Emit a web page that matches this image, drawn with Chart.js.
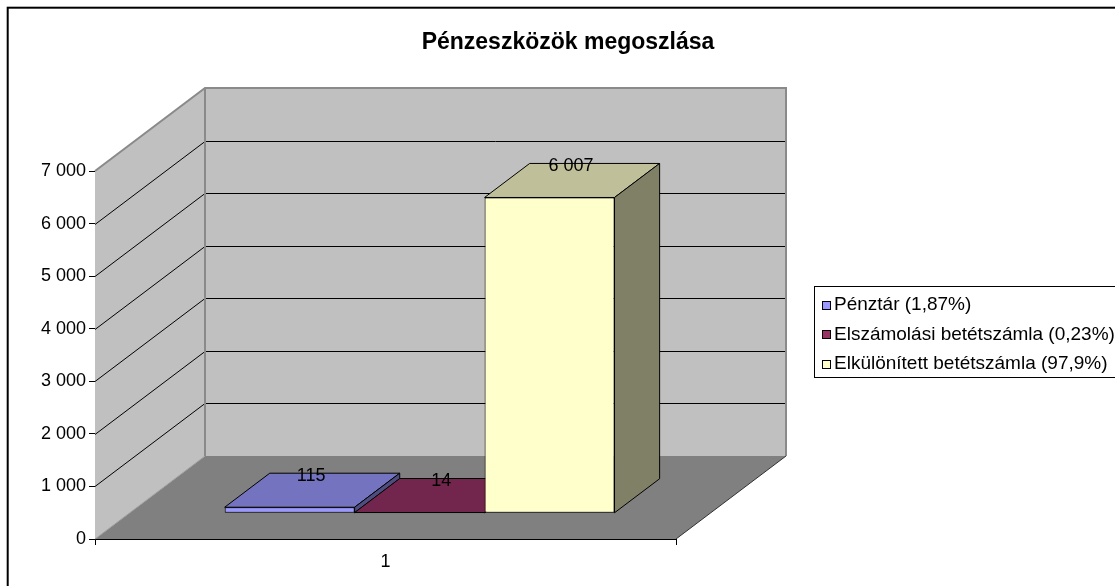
<!DOCTYPE html>
<html>
<head>
<meta charset="utf-8">
<script src="https://cdn.jsdelivr.net/npm/chart.js@4.4.1/dist/chart.umd.min.js"></script>
<style>
  html, body { margin: 0; padding: 0; background: #fff; }
  #wrap { width: 1115px; height: 586px; }
</style>
</head>
<body>
<div id="wrap"><canvas id="chart" width="1115" height="586"></canvas></div>
<script>
// --- data ---
const chartTitle = 'Pénzeszközök megoszlása';
const categories = ['1'];
const seriesNames = ['Pénztár (1,87%)', 'Elszámolási betétszámla (0,23%)', 'Elkülönített betétszámla (97,9%)'];
const seriesValues = [115, 14, 6007];
const seriesColors = ['#9999FF', '#993366', '#FFFFCC'];
const yMax = 7000;
const yStep = 1000;

const FONT = '"Liberation Sans", Arial, sans-serif';
const DEPTH = { x: 110, y: -83 };   // full floor depth (oblique projection)
const BAR_OFF = 0.31;               // bars start this far back
const BAR_DEPTH = 0.41;             // and are this deep

function fmt(v) {
    return String(v).replace(/\B(?=(\d{3})+(?!\d))/g, ' ');
}

function shade(hex, k) {
    const n = parseInt(hex.slice(1), 16);
    const r = Math.round(((n >> 16) & 255) * k);
    const g = Math.round(((n >> 8) & 255) * k);
    const b = Math.round((n & 255) * k);
    return `rgb(${r},${g},${b})`;
}

function poly(ctx, pts, fill, stroke, lw) {
    ctx.beginPath();
    ctx.moveTo(pts[0][0], pts[0][1]);
    for (let i = 1; i < pts.length; i++) ctx.lineTo(pts[i][0], pts[i][1]);
    ctx.closePath();
    if (fill) { ctx.fillStyle = fill; ctx.fill(); }
    if (stroke) { ctx.strokeStyle = stroke; ctx.lineWidth = lw || 1; ctx.stroke(); }
}

function line(ctx, pts, color, lw) {
    ctx.beginPath();
    ctx.moveTo(pts[0][0], pts[0][1]);
    for (let i = 1; i < pts.length; i++) ctx.lineTo(pts[i][0], pts[i][1]);
    ctx.strokeStyle = color;
    ctx.lineWidth = lw || 1;
    ctx.stroke();
}

function barBox(chart, i) {
    const el = chart.getDatasetMeta(i).data[0];
    const p = el.getProps(['x', 'y', 'base', 'width'], true);
    const ox = DEPTH.x * BAR_OFF, oy = DEPTH.y * BAR_OFF;
    return {
        L: p.x - p.width / 2 + ox, R: p.x + p.width / 2 + ox,
        T: p.y + oy, B: p.base + oy,
        bx: DEPTH.x * BAR_DEPTH, by: DEPTH.y * BAR_DEPTH
    };
}

const excel3d = {
    id: 'excel3d',
    beforeDatasetsDraw(chart) {
        const { ctx, chartArea: a, scales: { y } } = chart;
        const dx = DEPTH.x, dy = DEPTH.y;
        ctx.save();
        // walls and floor
        poly(ctx, [[a.left, a.bottom], [a.left, a.top], [a.left + dx, a.top + dy], [a.left + dx, a.bottom + dy]], '#C0C0C0');
        poly(ctx, [[a.left + dx, a.top + dy], [a.right + dx, a.top + dy], [a.right + dx, a.bottom + dy], [a.left + dx, a.bottom + dy]], '#C0C0C0');
        poly(ctx, [[a.left, a.bottom], [a.right, a.bottom], [a.right + dx, a.bottom + dy], [a.left + dx, a.bottom + dy]], '#808080');

        // gridlines on side and back wall
        y.ticks.forEach(t => {
            if (t.value <= 0 || t.value >= yMax) return;
            const py = Math.round(y.getPixelForValue(t.value)) + 0.5;
            line(ctx, [[a.left, py], [a.left + dx, py + dy], [a.right + dx, py + dy]], '#000', 1);
        });

        // wall edges
        line(ctx, [[a.left, a.top], [a.left + dx, a.top + dy], [a.right + dx, a.top + dy], [a.right + dx, a.bottom + dy]], '#8a8a8a', 2);
        line(ctx, [[a.left + dx, a.top + dy], [a.left + dx, a.bottom + dy]], '#8a8a8a', 2);
        line(ctx, [[a.left, a.bottom], [a.left + dx, a.bottom + dy]], '#a0a0a0', 1);
        line(ctx, [[a.right, a.bottom], [a.right + dx, a.bottom + dy]], '#303030', 1);

        // top and side faces of the bars
        seriesValues.forEach((v, i) => {
            const b = barBox(chart, i);
            const c = seriesColors[i];
            poly(ctx, [[b.L, b.T], [b.R, b.T], [b.R + b.bx, b.T + b.by], [b.L + b.bx, b.T + b.by]], shade(c, 0.75), '#000', 1);
            poly(ctx, [[b.R, b.T], [b.R + b.bx, b.T + b.by], [b.R + b.bx, b.B + b.by], [b.R, b.B]], shade(c, 0.5), '#000', 1);
        });
        ctx.restore();

        // front faces are drawn by Chart.js, shifted back into the box
        ctx.save();
        ctx.translate(DEPTH.x * BAR_OFF, DEPTH.y * BAR_OFF);
    },
    afterDatasetsDraw(chart) {
        const { ctx } = chart;
        ctx.restore();
        ctx.save();
        ctx.font = '18px ' + FONT;
        ctx.fillStyle = '#000';
        ctx.textAlign = 'center';
        ctx.textBaseline = 'middle';
        seriesValues.forEach((v, i) => {
            const b = barBox(chart, i);
            ctx.fillText(fmt(v), (b.L + b.R) / 2 + b.bx / 2 - 1, b.T + b.by + 3);
        });
        ctx.restore();
    },
    afterDraw(chart) {
        const { ctx } = chart;
        ctx.save();
        // title
        ctx.font = 'bold 23px ' + FONT;
        ctx.fillStyle = '#000';
        ctx.textAlign = 'center';
        ctx.textBaseline = 'middle';
        ctx.fillText(chartTitle, 568, 43);

        // legend
        ctx.strokeStyle = '#000';
        ctx.lineWidth = 1;
        ctx.strokeRect(814.5, 286.5, 400, 91);
        ctx.font = '19px ' + FONT;
        ctx.textAlign = 'left';
        const rows = [305, 334.5, 364];
        seriesNames.forEach((name, i) => {
            const cy = rows[i];
            ctx.fillStyle = seriesColors[i];
            ctx.fillRect(822.5, Math.round(cy - 4.5) + 0.5, 8, 8);
            ctx.strokeRect(822.5, Math.round(cy - 4.5) + 0.5, 8, 8);
            ctx.fillStyle = '#000';
            ctx.fillText(name, 834, cy);
        });

        // outer chart border
        ctx.lineWidth = 2;
        ctx.strokeRect(7.7, 7.7, 1200, 700);
        ctx.restore();
    }
};

const datasets = seriesNames.map((name, i) => ({
    label: name,
    data: [seriesValues[i]],
    backgroundColor: seriesColors[i],
    borderColor: '#000',
    borderWidth: 1,
    borderSkipped: false,
    categoryPercentage: 0.671,
    barPercentage: 1,
    clip: false
}));

new Chart(document.getElementById('chart').getContext('2d'), {
    type: 'bar',
    data: { labels: categories, datasets: datasets },
    options: {
        responsive: false,
        animation: false,
        devicePixelRatio: 1,
        layout: { padding: { left: 0, top: 171, right: 439, bottom: 0 } },
        plugins: {
            legend: { display: false },
            title: { display: false },
            tooltip: { enabled: false }
        },
        scales: {
            x: {
                z: 1,
                grid: { display: true, drawOnChartArea: false, offset: true, tickLength: 6, color: '#000' },
                border: { display: true, color: '#000', width: 1 },
                ticks: { color: '#000', font: { family: FONT, size: 18 }, padding: 6 },
                afterFit(scale) { scale.height = 47; }
            },
            y: {
                z: 1,
                min: 0,
                max: yMax,
                grid: { display: true, drawOnChartArea: false, tickLength: 6, color: '#000' },
                border: { display: true, color: '#000', width: 1 },
                ticks: {
                    stepSize: yStep,
                    color: '#000',
                    padding: 3,
                    font: { family: FONT, size: 18 },
                    callback: v => fmt(v)
                },
                afterFit(scale) { scale.width = 95; }
            }
        }
    },
    plugins: [excel3d]
});
</script>
</body>
</html>
